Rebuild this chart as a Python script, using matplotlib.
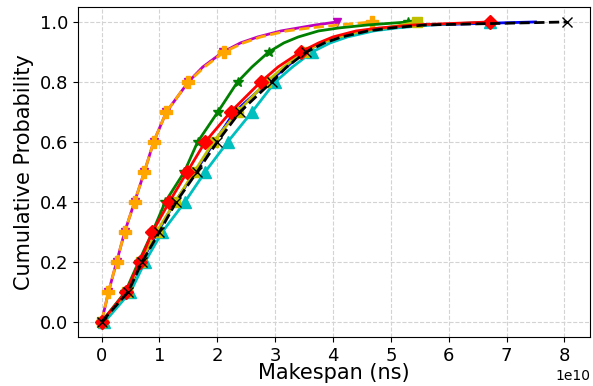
import numpy as np
import matplotlib.pyplot as plt

# cumulative probability levels (markers at the deciles)
prob = [0, .1, .2, .3, .4, .5, .6, .7, .8, .85, .9, .93, .95, .97, .98, .99, 1.0]
marks = [0, 1, 2, 3, 4, 5, 6, 7, 8, 10, 16]

# makespan values in units of 1e10 ns
magenta = [0, 0.12, 0.26, 0.40, 0.57, 0.74, 0.90, 1.12, 1.50, 1.75, 2.10, 2.40, 2.70, 3.10, 3.40, 3.70, 4.07]
orange = [0, 0.12, 0.26, 0.40, 0.57, 0.74, 0.90, 1.12, 1.50, 1.78, 2.12, 2.45, 2.75, 3.20, 3.60, 4.10, 4.67]
green = [0, 0.41, 0.64, 0.88, 1.10, 1.43, 1.66, 2.01, 2.35, 2.60, 2.89, 3.15, 3.40, 3.75, 4.10, 4.60, 5.30]
red = [0, 0.42, 0.66, 0.88, 1.17, 1.48, 1.79, 2.23, 2.75, 3.05, 3.44, 3.75, 4.00, 4.40, 4.80, 5.40, 6.72]
blue = [0, 0.45, 0.69, 0.97, 1.27, 1.62, 1.95, 2.30, 2.88, 3.20, 3.50, 3.80, 4.10, 4.55, 5.00, 5.60, 7.50]
olive = [0, 0.44, 0.68, 0.95, 1.27, 1.60, 1.93, 2.35, 2.85, 3.15, 3.50, 3.80, 4.10, 4.50, 4.90, 5.20, 5.45]
cyan = [0.05, 0.50, 0.75, 1.05, 1.44, 1.79, 2.18, 2.60, 3.00, 3.30, 3.64, 3.95, 4.25, 4.70, 5.10, 5.70, 6.72]
black = [0, 0.46, 0.70, 1.00, 1.29, 1.65, 2.00, 2.39, 2.94, 3.20, 3.54, 3.85, 4.15, 4.60, 5.00, 5.60, 8.04]

fig, ax = plt.subplots(figsize=(5.93, 3.86), dpi=100)
fig.subplots_adjust(left=0.132, right=0.995, top=0.982, bottom=0.127)

def draw(vals, color, marker, ms, ls="-"):
    x = np.array(vals) * 1e10
    ax.plot(x, prob, color=color, ls=ls, lw=2, marker=marker, ms=ms,
            markevery=marks)

draw(magenta, "m", "v", 6)
draw(orange, "orange", "P", 8, ls="--")
draw(green, "g", "*", 7)
draw(blue, "b", "o", 0)
draw(cyan, "c", "^", 8)
draw(olive, "y", "s", 7)
draw(red, "r", "D", 7.5)
draw(black, "k", "x", 7, ls="--")

ax.grid(True, ls="--", color="lightgray")
ax.set_xlabel("Makespan (ns)", fontsize=15, labelpad=-1)
ax.set_ylabel("Cumulative Probability", fontsize=15)
ax.tick_params(labelsize=13)
ax.xaxis.get_offset_text().set_fontsize(10)
ax.set_xticks(np.arange(0, 9) * 1e10)

fig.savefig("out.png")
